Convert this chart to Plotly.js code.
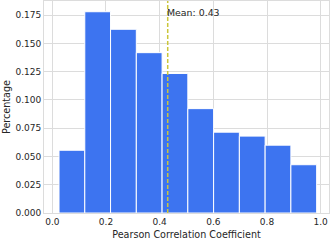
<!DOCTYPE html>
<html><head><meta charset="utf-8">
<script src="https://cdn.plot.ly/plotly-3.0.1.min.js"></script>
<style>html,body{margin:0;padding:0;background:#fff}</style>
</head><body><div id="c" style="width:332px;height:242px"></div>
<script>
const binStart = 0.025;
const binWidth = 0.096;
const percentages = [0.0555, 0.178, 0.1625, 0.1418, 0.1234, 0.0923, 0.0715, 0.068, 0.060, 0.0427];
const meanValue = 0.43;
const meanLabel = "Mean: 0.43";
const yTicks = [0, 0.025, 0.05, 0.075, 0.1, 0.125, 0.15, 0.175];
const xTicks = [0, 0.2, 0.4, 0.6, 0.8, 1.0];

const centers = percentages.map((_, i) => binStart + binWidth * (i + 0.5));
const font = {family: "DejaVu Sans", size: 9, color: "#262626"};
const titleFont = {family: "DejaVu Sans", size: 9.6, color: "#262626"};
const data = [{
  type: "bar", x: centers, y: percentages, width: binWidth,
  marker: {color: "#3d74f0", line: {color: "#ffffff", width: 1}},
  hoverinfo: "none"
}];
const layout = {
  width: 332, height: 242,
  margin: {l: 44, r: 3, t: 1, b: 29},
  paper_bgcolor: "#fff", plot_bgcolor: "#fff",
  showlegend: false, font: font, bargap: 0,
  xaxis: {range: [-0.031, 1.031], tickvals: xTicks, ticktext: xTicks.map(v => v.toFixed(1)),
    showgrid: true, gridcolor: "#dcdcdc", gridwidth: 1, zeroline: false,
    showline: true, mirror: true, linecolor: "#dcdcdc", ticks: "",
    title: {text: "Pearson Correlation Coefficient", font: titleFont, standoff: 5},
    tickfont: font},
  yaxis: {range: [0, 0.1875], tickvals: yTicks, ticktext: yTicks.map(v => v.toFixed(3)),
    showgrid: true, gridcolor: "#dcdcdc", gridwidth: 1, zeroline: false,
    showline: true, mirror: true, linecolor: "#dcdcdc", ticks: "",
    title: {text: "Percentage", font: titleFont, standoff: 3},
    tickfont: font},
  shapes: [{type: "line", xref: "x", yref: "paper", x0: meanValue, x1: meanValue, y0: 0, y1: 1,
    line: {color: "#cbc63a", width: 1.5, dash: "4px,2px"}}],
  annotations: [{xref: "x", yref: "y", x: meanValue, y: 0.1775, text: meanLabel, showarrow: false,
    xanchor: "left", yanchor: "middle", xshift: -3, font: {family: "DejaVu Sans", size: 9.4, color: "#262626"}}]
};
Plotly.newPlot("c", data, layout, {staticPlot: true, displayModeBar: false});
</script></body></html>
